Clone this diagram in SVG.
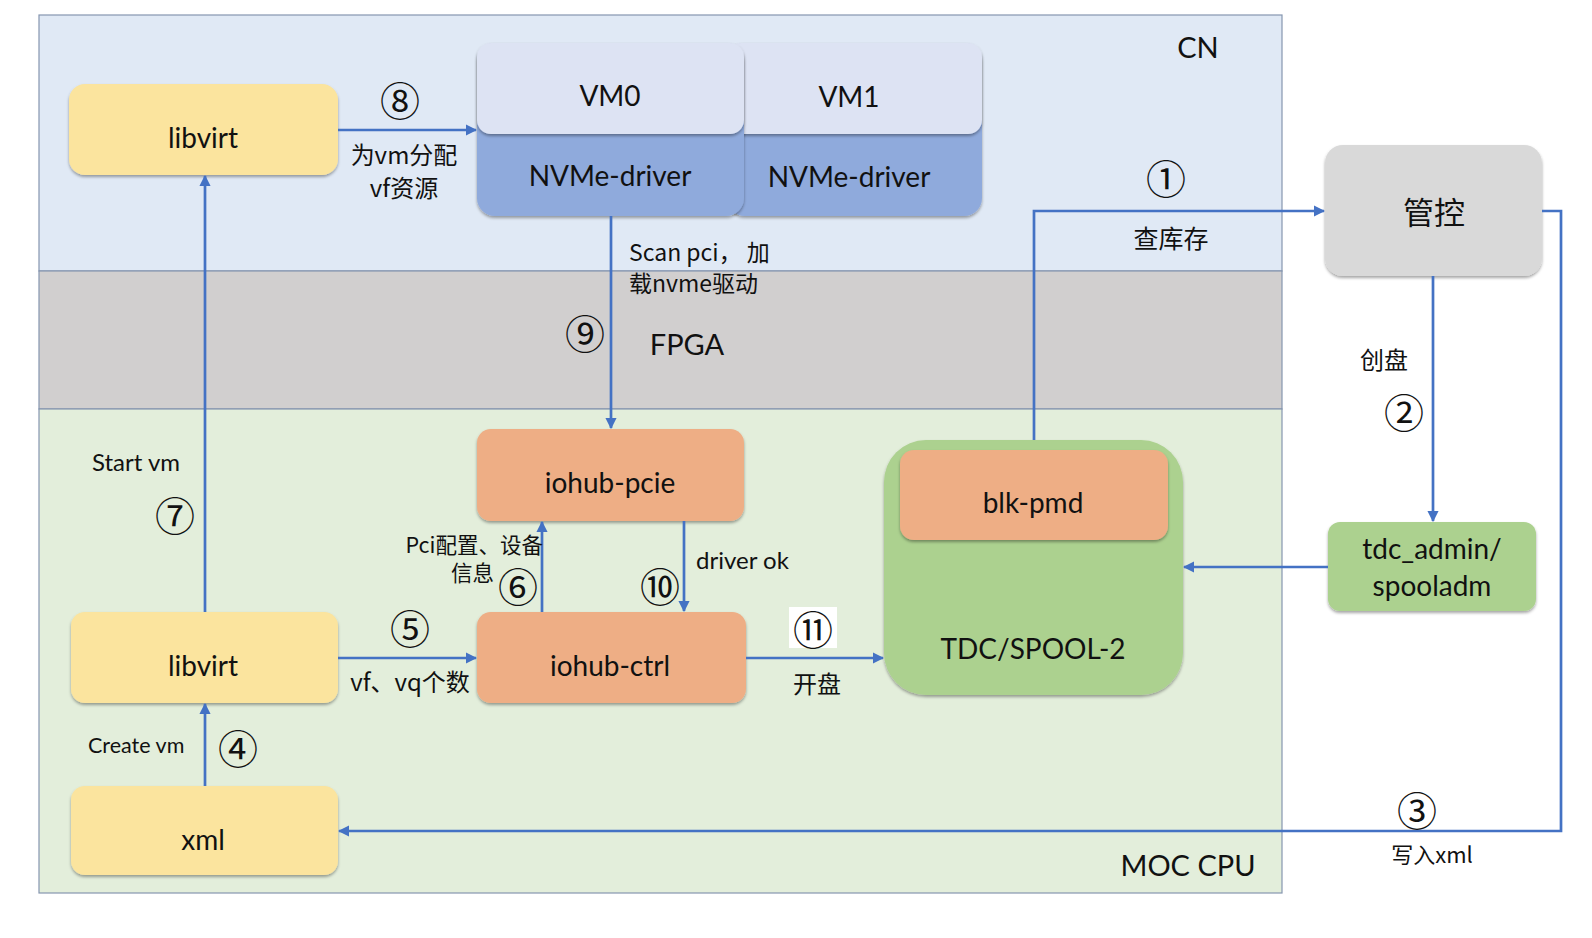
<svg xmlns="http://www.w3.org/2000/svg" width="1592" height="938" viewBox="0 0 1592 938">
<defs>
<filter id="sh" x="-10%" y="-10%" width="120%" height="130%">
<feDropShadow dx="0" dy="2" stdDeviation="1.5" flood-color="#000" flood-opacity="0.35"/>
</filter>
<marker id="ah" viewBox="0 0 10 10" refX="9" refY="5" markerWidth="4.2" markerHeight="4.2" orient="auto-start-reverse" markerUnits="strokeWidth">
<path d="M0,0 L10,5 L0,10 z" fill="#4472c4"/>
</marker>
<style>
.t{font-family:Lato,"Noto Sans","Noto Sans CJK SC",sans-serif;fill:#111;}
.n{font-size:28px;text-anchor:middle;dominant-baseline:central;}
.l{font-size:24px;dominant-baseline:central;}
.c{font-family:"Noto Sans CJK SC","DejaVu Sans",sans-serif;font-size:40px;text-anchor:middle;dominant-baseline:central;fill:#111;}
.cn{font-family:"Noto Sans CJK SC",sans-serif;fill:#111;}
.ln{fill:none;stroke:#4472c4;stroke-width:2.7;marker-end:url(#ah);}
.yl{fill:#fbe49e;}
.or{fill:#eeae85;}
.gr{fill:#acd18f;}
</style>
</defs>
<rect width="1592" height="938" fill="#ffffff"/>
<g id="regions">
<rect x="39" y="15" width="1243" height="256" fill="#e0e9f5" stroke="#8596b0" stroke-width="1.2"/>
<rect x="39" y="271" width="1243" height="138" fill="#d1cfcf" stroke="#8596b0" stroke-width="1.2"/>
<rect x="39" y="409" width="1243" height="484" fill="#e3eedb" stroke="#8596b0" stroke-width="1.2"/>
<text class="t" x="1198" y="46" font-size="29" text-anchor="middle" dominant-baseline="central">CN</text>
<text class="t" x="687" y="343" font-size="29" text-anchor="middle" dominant-baseline="central">FPGA</text>
<text class="t" x="1188" y="864" font-size="29" text-anchor="middle" dominant-baseline="central">MOC CPU</text>
</g>
<g id="node-libvirt-top">
<rect x="69" y="84" width="269" height="91" rx="16" class="yl" filter="url(#sh)"/>
<text class="t n" x="203" y="137">libvirt</text>
</g>
<g id="node-vm1">
<rect x="727" y="43" width="255" height="173" rx="18" fill="#8faadc" filter="url(#sh)"/>
<rect x="727" y="43" width="255" height="91" rx="14" fill="#dde3f3" filter="url(#sh)"/>
<text class="t n" x="849" y="96">VM1</text>
<text class="t n" x="849" y="176">NVMe-driver</text>
</g>
<g id="node-vm0">
<rect x="477" y="43" width="267" height="173" rx="18" fill="#8faadc" filter="url(#sh)"/>
<rect x="477" y="43" width="267" height="91" rx="14" fill="#dde3f3" filter="url(#sh)"/>
<text class="t n" x="610" y="95">VM0</text>
<text class="t n" x="610" y="175">NVMe-driver</text>
</g>
<g id="node-guankong">
<rect x="1325" y="145" width="217" height="131" rx="18" fill="#d9d9d9" filter="url(#sh)"/>
<text class="cn" x="1434" y="210" font-size="31" text-anchor="middle" dominant-baseline="central">管控</text>
</g>
<g id="node-tdcadmin">
<rect x="1328" y="522" width="208" height="89" rx="12" class="gr" filter="url(#sh)"/>
<text class="t n" x="1432" y="548" font-size="29">tdc_admin/</text>
<text class="t n" x="1432" y="585" font-size="29">spooladm</text>
</g>
<g id="node-tdc">
<rect x="884" y="440" width="299" height="255" rx="42" class="gr" filter="url(#sh)"/>
<text class="t n" x="1033" y="648" font-size="27">TDC/SPOOL-2</text>
</g>
<g id="node-blkpmd">
<rect x="900" y="450" width="268" height="90" rx="14" class="or" filter="url(#sh)"/>
<text class="t n" x="1033" y="502">blk-pmd</text>
</g>
<g id="node-iohub-pcie">
<rect x="477" y="429" width="267" height="92" rx="14" class="or" filter="url(#sh)"/>
<text class="t n" x="610" y="482">iohub-pcie</text>
</g>
<g id="node-iohub-ctrl">
<rect x="477" y="612" width="269" height="91" rx="14" class="or" filter="url(#sh)"/>
<text class="t n" x="610" y="665">iohub-ctrl</text>
</g>
<g id="node-libvirt-bottom">
<rect x="71" y="612" width="267" height="91" rx="14" class="yl" filter="url(#sh)"/>
<text class="t n" x="203" y="665">libvirt</text>
</g>
<g id="node-xml">
<rect x="71" y="786" width="267" height="89" rx="14" class="yl" filter="url(#sh)"/>
<text class="t n" x="203" y="839">xml</text>
</g>
<g id="connectors">
<path class="ln" d="M338,130 H476"/>
<path class="ln" d="M611,216 V428"/>
<path class="ln" d="M205,612 V176"/>
<path class="ln" d="M205,786 V704"/>
<path class="ln" d="M338,658 H476"/>
<path class="ln" d="M542,612 V522"/>
<path class="ln" d="M684,521 V611"/>
<path class="ln" d="M746,658 H883"/>
<path class="ln" d="M1034,440 V211 H1324"/>
<path class="ln" d="M1433,276 V521"/>
<path class="ln" d="M1328,567 H1184"/>
<path class="ln" d="M1542,211 H1561 V831 H339"/>
</g>
<g id="labels">
<text class="c" x="400" y="99">⑧</text>
<text class="cn" x="404" y="153" font-size="24" text-anchor="middle" dominant-baseline="central">为vm分配</text>
<text class="cn" x="404" y="186" font-size="24" text-anchor="middle" dominant-baseline="central">vf资源</text>
<text class="cn" x="629" y="251" font-size="23" dominant-baseline="central">Scan pci， 加</text>
<text class="cn" x="629" y="282" font-size="23" dominant-baseline="central">载nvme驱动</text>
<text class="c" x="585" y="332">⑨</text>
<text class="t l" x="92" y="461">Start vm</text>
<text class="c" x="175" y="514">⑦</text>
<text class="t" x="88" y="745" font-size="21.5" dominant-baseline="central">Create vm</text>
<text class="c" x="238" y="747">④</text>
<text class="c" x="410" y="627">⑤</text>
<text class="cn" x="410" y="680" font-size="24" text-anchor="middle" dominant-baseline="central">vf、vq个数</text>
<text class="cn" x="543" y="543" font-size="21.5" text-anchor="end" dominant-baseline="central">Pci配置、设备</text>
<text class="cn" x="494" y="571" font-size="21.5" text-anchor="end" dominant-baseline="central">信息</text>
<text class="c" x="518" y="585">⑥</text>
<text class="t l" x="696" y="559">driver ok</text>
<text class="c" x="660" y="585">⑩</text>
<rect x="789" y="607" width="48" height="41" fill="#ffffff"/>
<text class="c" x="813" y="628">⑪</text>
<text class="cn" x="817" y="682" font-size="24" text-anchor="middle" dominant-baseline="central">开盘</text>
<text class="c" x="1166" y="177">①</text>
<text class="cn" x="1171" y="237" font-size="25" text-anchor="middle" dominant-baseline="central">查库存</text>
<text class="cn" x="1384" y="358" font-size="24" text-anchor="middle" dominant-baseline="central">创盘</text>
<text class="c" x="1404" y="411">②</text>
<text class="c" x="1417" y="809">③</text>
<text class="cn" x="1432" y="853" font-size="22" text-anchor="middle" dominant-baseline="central">写入xml</text>
</g>
</svg>
